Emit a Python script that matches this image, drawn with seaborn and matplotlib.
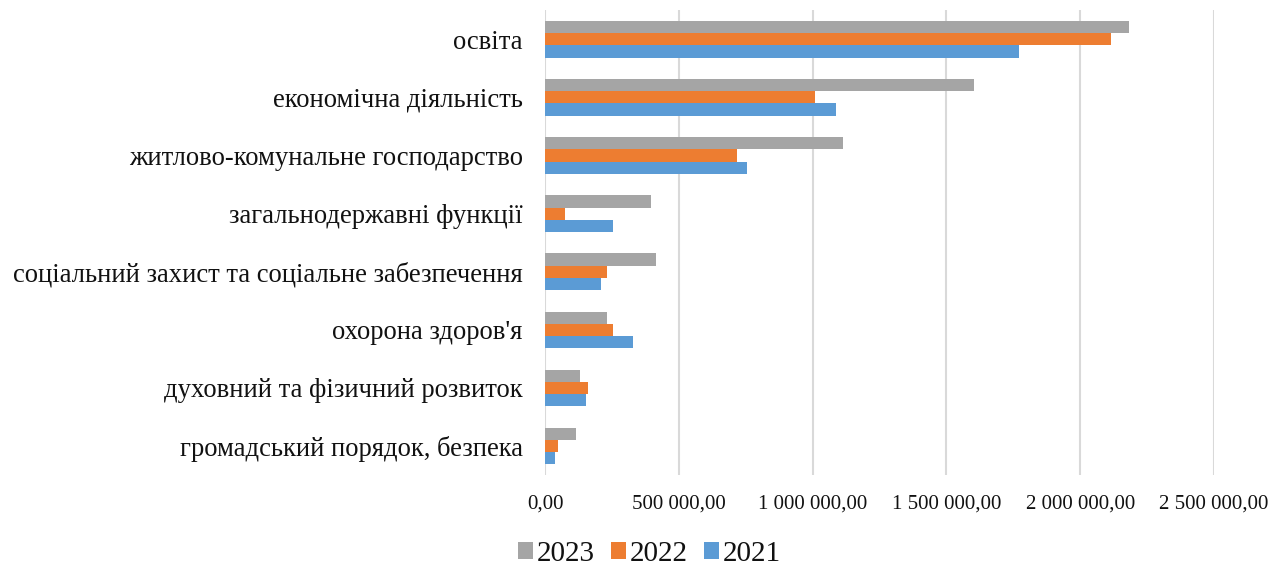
import numpy as np
import pandas as pd
import matplotlib.pyplot as plt
import matplotlib.ticker as mticker
import seaborn as sns

# data
categories = ['освіта', 'економічна діяльність', 'житлово-комунальне господарство',
              'загальнодержавні функції', 'соціальний захист та соціальне забезпечення',
              "охорона здоров'я", 'духовний та фізичний розвиток', 'громадський порядок, безпека']
years = ['2023', '2022', '2021']
v2023 = [2184000, 1604000, 1114000, 397000, 413000, 232000, 130000, 117000]
v2022 = [2114000, 1010000, 716000, 73000, 232000, 254000, 160000, 50000]
v2021 = [1773000, 1088000, 754000, 254000, 208000, 330000, 153000, 37000]
colors = ['#A5A5A5', '#ED7D31', '#5B9BD5']

df = pd.DataFrame({
    'category': categories * 3,
    'year': ['2023'] * 8 + ['2022'] * 8 + ['2021'] * 8,
    'value': v2023 + v2022 + v2021,
})

sns.set_style('white')
plt.rcParams['font.family'] = ['Liberation Serif', 'DejaVu Serif']
plt.rcParams['text.color'] = '#111111'
plt.rcParams['xtick.color'] = '#111111'
plt.rcParams['ytick.color'] = '#111111'

fig = plt.figure(figsize=(12.86, 5.65), dpi=100)
ax = fig.add_axes([0.4238, 0.159, 0.5202, 0.823])

sns.barplot(data=df, x='value', y='category', hue='year', hue_order=years,
            palette=colors, saturation=1, orient='h', width=0.63, gap=0,
            linewidth=0, ax=ax, legend=True)

ax.set_xlim(0, 2500000)
ax.set_xticks(np.arange(0, 2500001, 500000))

def fmt(v, pos):
    s = f'{v:,.2f}'
    return s.replace(',', ' ').replace('.', ',')

ax.xaxis.set_major_formatter(mticker.FuncFormatter(fmt))
ax.grid(axis='x', color='#d9d9d9', linewidth=1.5)
ax.set_axisbelow(True)
for s in ax.spines.values():
    s.set_visible(False)
ax.tick_params(axis='both', length=0)
ax.tick_params(axis='x', labelsize=15, pad=14)
ax.tick_params(axis='y', labelsize=19.2, pad=16)
ax.set_xlabel('')
ax.set_ylabel('')

handles, labels = ax.get_legend_handles_labels()
ax.get_legend().remove()
fig.legend(handles, labels, loc='lower center', bbox_to_anchor=(0.505, -0.05), ncol=3,
           frameon=False, fontsize=21, handlelength=0.52, handleheight=0.52,
           handletextpad=0.12, columnspacing=0.55)

fig.savefig('out.png', dpi=100)
